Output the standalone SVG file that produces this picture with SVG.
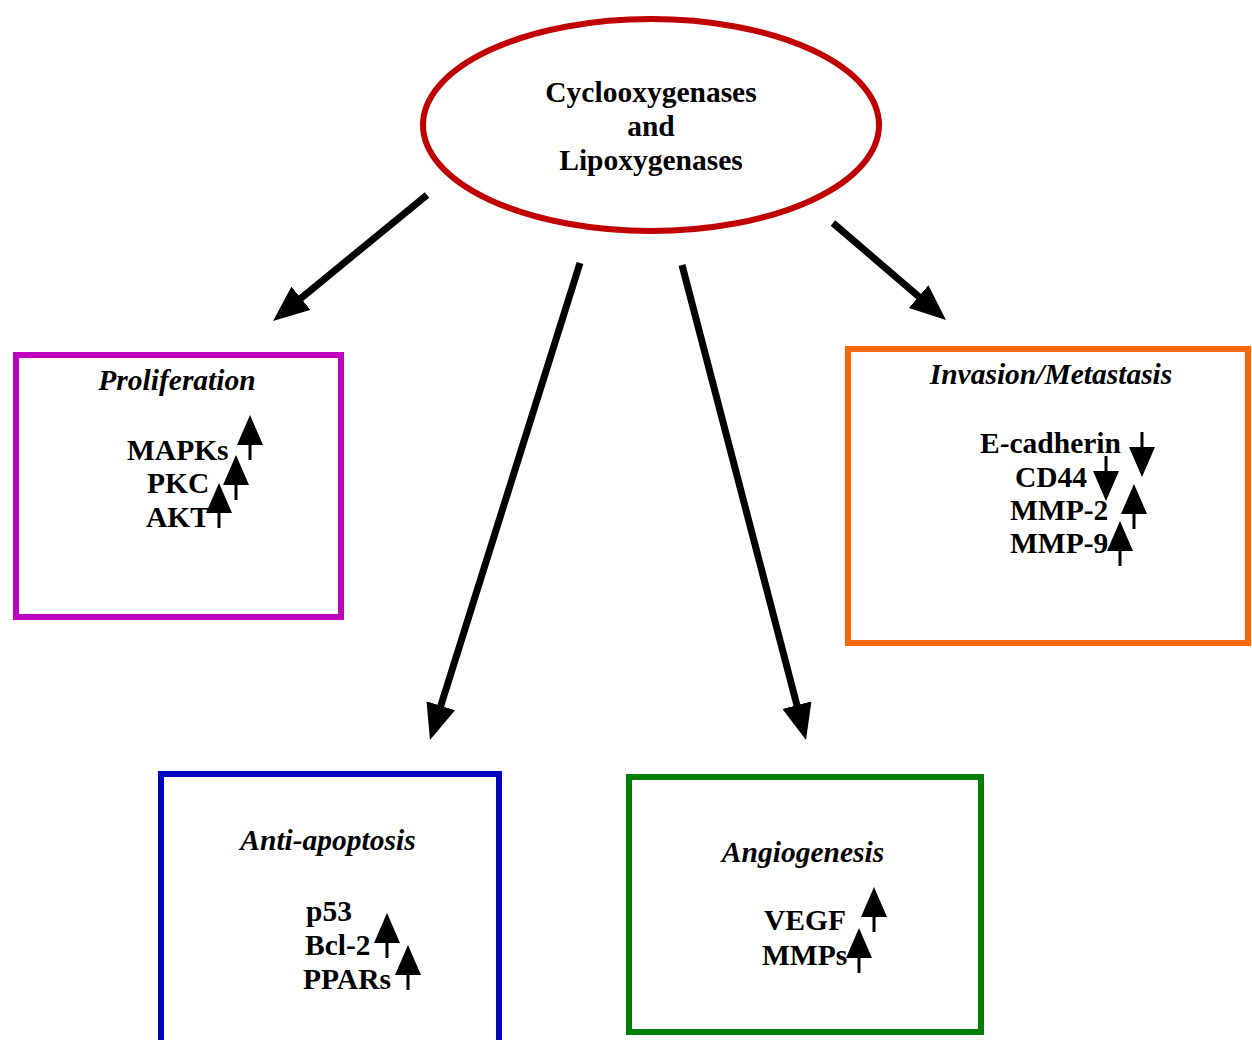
<svg xmlns="http://www.w3.org/2000/svg" xmlns:xlink="http://www.w3.org/1999/xlink" width="1252" height="1040" viewBox="0 0 1252 1040">
<style>
text{font-family:"Liberation Serif","Times New Roman",serif;font-weight:bold;font-size:29.5px;fill:#000}
.t{font-style:italic;text-anchor:middle}
.box{fill:none;stroke-width:6}
.conn{stroke:#000;stroke-width:7;fill:none;marker-end:url(#ah)}
</style>
<defs>
<marker id="ah" viewBox="0 0 36 30" refX="11" refY="15" markerWidth="36" markerHeight="30" markerUnits="userSpaceOnUse" orient="auto">
<path d="M0,0 L36,15 L0,30 z" fill="#000"/>
</marker>
<g id="up"><path d="M0,0 L13,30 L-13,30 z" fill="#000"/><rect x="-1.5" y="29" width="3" height="16" fill="#000"/></g>
<g id="down"><path d="M0,45 L13,15 L-13,15 z" fill="#000"/><rect x="-1.5" y="0" width="3" height="16" fill="#000"/></g>
</defs>
<rect width="1252" height="1040" fill="#fff"/>
<g id="connectors">
<line class="conn" x1="427" y1="195" x2="292.4" y2="305.2"/>
<line class="conn" x1="580" y1="263" x2="437.5" y2="716.2"/>
<line class="conn" x1="682" y1="265" x2="799.7" y2="715.8"/>
<line class="conn" x1="833" y1="223" x2="927" y2="303.7"/>
</g>
<g id="cox">
<ellipse cx="651" cy="125" rx="228" ry="106" fill="none" stroke="#c00000" stroke-width="6"/>
<text x="651" y="102" text-anchor="middle">Cyclooxygenases</text>
<text x="651" y="136" text-anchor="middle">and</text>
<text x="651" y="170" text-anchor="middle">Lipoxygenases</text>
</g>
<g id="proliferation">
<rect class="box" x="16" y="355" width="325" height="262" stroke="#c000c0"/>
<text class="t" x="177" y="390">Proliferation</text>
<text x="127" y="460">MAPKs</text>
<text x="147" y="493">PKC</text>
<text x="146" y="527">AKT</text>
<use xlink:href="#up" x="250" y="415"/>
<use xlink:href="#up" x="236" y="455"/>
<use xlink:href="#up" x="219" y="483"/>
</g>
<g id="invasion">
<rect class="box" x="848" y="349" width="400" height="294" stroke="#ff6600"/>
<text class="t" x="1051" y="384">Invasion/Metastasis</text>
<text x="980" y="453">E-cadherin</text>
<text x="1015" y="487">CD44</text>
<text x="1010" y="520">MMP-2</text>
<text x="1010" y="553">MMP-9</text>
<use xlink:href="#down" x="1142" y="432"/>
<use xlink:href="#down" x="1106" y="456"/>
<use xlink:href="#up" x="1134" y="484"/>
<use xlink:href="#up" x="1120" y="521"/>
</g>
<g id="antiapoptosis">
<rect class="box" x="161" y="774" width="338" height="280" stroke="#0000c0"/>
<text class="t" x="328" y="850">Anti-apoptosis</text>
<text x="306" y="921">p53</text>
<text x="305" y="955">Bcl-2</text>
<text x="303" y="989">PPARs</text>
<use xlink:href="#up" x="387" y="913"/>
<use xlink:href="#up" x="408" y="945"/>
</g>
<g id="angiogenesis">
<rect class="box" x="629" y="777" width="352" height="255" stroke="#008000"/>
<text class="t" x="803" y="862">Angiogenesis</text>
<text x="764" y="930">VEGF</text>
<text x="762" y="965">MMPs</text>
<use xlink:href="#up" x="874" y="887"/>
<use xlink:href="#up" x="859" y="928"/>
</g>
</svg>
